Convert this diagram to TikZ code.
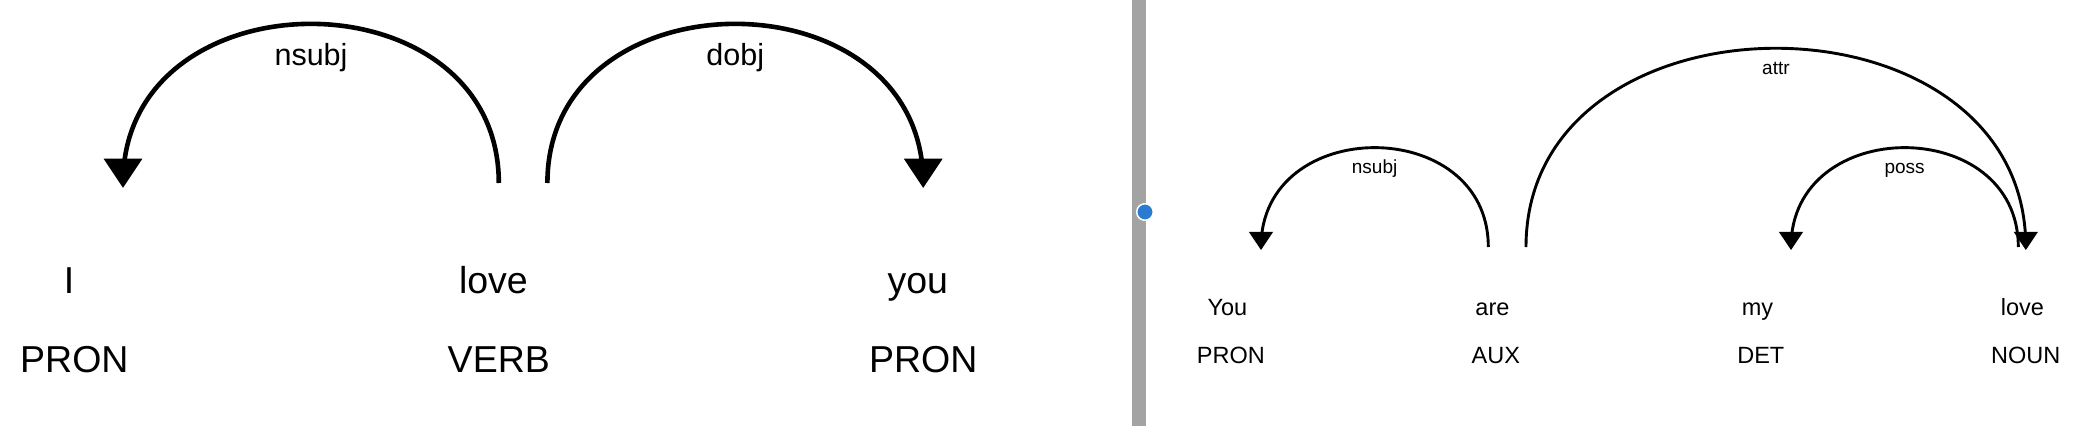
\documentclass[tikz,border=0pt]{standalone}
\usepackage{fontspec}
\setmainfont{Liberation Sans}
\usetikzlibrary{calc}
\definecolor{bargray}{HTML}{A3A3A3}
\definecolor{dotblue}{HTML}{2A7BD2}
% arrowhead: #1 coordinate, #2 half width, #3 height above, #4 tip below
\newcommand\depArrowHead[4]{%
  \fill ($(#1)+(0,#4)$) -- ($(#1)+(-#2,-#3)$) -- ($(#1)+(#2,-#3)$) -- cycle;}
\begin{document}
\begin{tikzpicture}[x=1pt,y=-1pt,
  tok/.style={inner sep=0pt, outer sep=0pt, anchor=base},
  bigtok/.style={tok, font=\fontsize{37.5}{40}\selectfont},
  smalltok/.style={tok, font=\fontsize{23.5}{26}\selectfont},
  biglbl/.style={tok, font=\fontsize{30.5}{33}\selectfont},
  smalllbl/.style={tok, font=\fontsize{19}{21}\selectfont},
  bigarc/.style={line width=4.6pt},
  smallarc/.style={line width=2.9pt},
]
\useasboundingbox (0,0) rectangle (2090,426);
\fill[white] (0,0) rectangle (2090,426);

% ---------- left panel ----------
\node[bigtok] (w1) at (69,293) {I};
\node[bigtok] (w2) at (493.4,293) {love};
\node[bigtok] (w3) at (917.8,293) {you};
\node[bigtok] (t1) at (74.4,372) {PRON};
\node[bigtok] (t2) at (498.8,372) {VERB};
\node[bigtok] (t3) at (923.2,372) {PRON};

\coordinate (La1) at (123,183);
\coordinate (Lb1) at (498.8,183);
\coordinate (La2) at (547.4,183);
\coordinate (Lb2) at (923.2,183);

\draw[bigarc] (La1) .. controls (123,-29.2) and (498.8,-29.2) .. (Lb1);
\depArrowHead{La1}{19.4}{24.3}{4.86}
\node[biglbl] (l1) at (311,65) {nsubj};

\draw[bigarc] (La2) .. controls (547.4,-29.2) and (923.2,-29.2) .. (Lb2);
\depArrowHead{Lb2}{19.4}{24.3}{4.86}
\node[biglbl] (l2) at (735.3,65) {dobj};

% ---------- divider ----------
\fill[bargray] (1132,0) rectangle (1145.5,426);
\filldraw[fill=dotblue, draw=white, line width=1.5pt] (1145,212) circle[radius=8.3];

% ---------- right panel ----------
\node[smalltok] (v1) at (1227.4,315) {You};
\node[smalltok] (v2) at (1492.4,315) {are};
\node[smalltok] (v3) at (1757.4,315) {my};
\node[smalltok] (v4) at (2022.4,315) {love};
\node[smalltok] (u1) at (1230.8,363) {PRON};
\node[smalltok] (u2) at (1495.8,363) {AUX};
\node[smalltok] (u3) at (1760.8,363) {DET};
\node[smalltok] (u4) at (2025.8,363) {NOUN};

\coordinate (Ra1) at (1261,247);
\coordinate (Rb1) at (1488.3,247);
\coordinate (Ra2) at (1526,247);
\coordinate (Rb2) at (2025.8,247);
\coordinate (Ra3) at (1791,247);
\coordinate (Rb3) at (2018.3,247);

\draw[smallarc] (Ra1) .. controls (1261,114.5) and (1488.3,114.5) .. (Rb1);
\depArrowHead{Ra1}{12.1}{15.1}{3}
\node[smalllbl] (m1) at (1374.6,173) {nsubj};

\draw[smallarc] (Ra2) .. controls (1526,-18) and (2025.8,-18) .. (Rb2);
\depArrowHead{Rb2}{12.1}{15.1}{3}
\node[smalllbl] (m2) at (1775.9,74) {attr};

\draw[smallarc] (Ra3) .. controls (1791,114.5) and (2018.3,114.5) .. (Rb3);
\depArrowHead{Ra3}{12.1}{15.1}{3}
\node[smalllbl] (m3) at (1904.6,173) {poss};
\end{tikzpicture}
\end{document}
